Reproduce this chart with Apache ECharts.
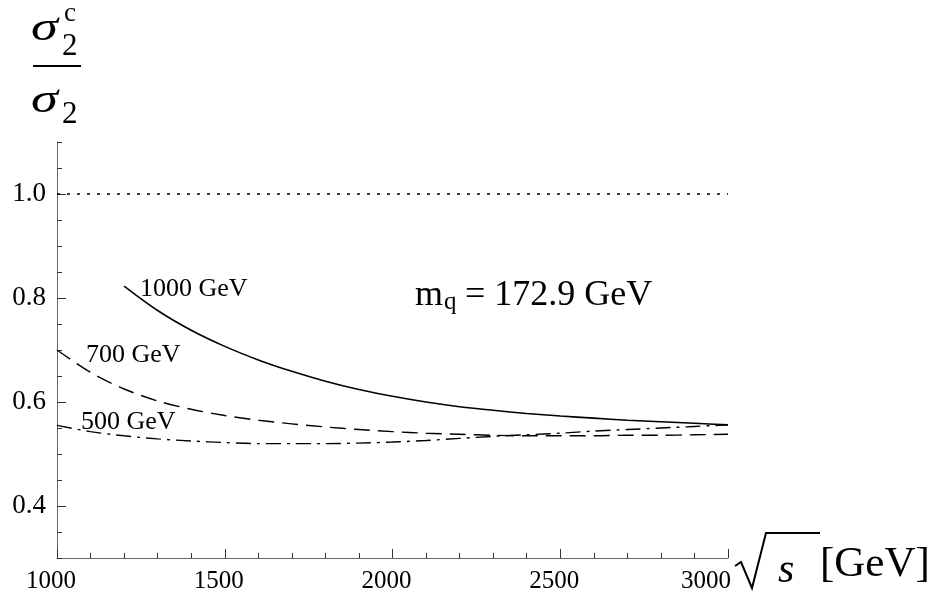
<!DOCTYPE html>
<html><head><meta charset="utf-8">
<script src="https://cdn.jsdelivr.net/npm/echarts@6/dist/echarts.min.js"></script>
<style>html,body{margin:0;padding:0;background:#fff}#c{width:935px;height:603px}</style>
</head><body><div id="c"></div>
<script>
// sqrt(s) in GeV
const sqrtS = [1000,1100,1200,1300,1400,1500,1600,1700,1800,1900,2000,2100,2200,2300,2400,2500,2600,2700,2800,2900,3000];
// sigma2^c / sigma2 for the three cut values (null = not drawn)
const cut1000 = [null,null,0.823,0.776,0.738,0.707,0.681,0.659,0.640,0.624,0.611,0.600,0.591,0.584,0.578,0.573,0.569,0.565,0.562,0.559,0.556];
const cut700  = [0.700,0.657,0.625,0.602,0.586,0.574,0.565,0.558,0.552,0.547,0.543,0.540,0.538,0.536,0.535,0.535,0.535,0.536,0.536,0.537,0.538];
const cut500  = [0.555,0.543,0.535,0.529,0.525,0.522,0.520,0.520,0.520,0.521,0.523,0.526,0.530,0.534,0.537,0.540,0.544,0.547,0.550,0.553,0.556];
const reference = [1.0, 1.0];
const referenceX = [1000, 3000];
const xTickLabels = ['1000','1500','2000','2500','3000'];
const xTickValues = [1000,1500,2000,2500,3000];
const yTickLabels = ['0.4','0.6','0.8','1.0'];
const yTickValues = [0.4,0.6,0.8,1.0];
const seriesNames = ['1000 GeV','700 GeV','500 GeV'];

const F = '"Liberation Serif","DejaVu Serif",serif';
const pairs = (xs, ys) => xs.map((x,i)=>[x, ys[i]]).filter(p=>p[1]!==null);

const chart = echarts.init(document.getElementById('c'), null, {renderer:'canvas'});
const axisColor = '#666';
const tickColor = '#333';
chart.setOption({
  animation:false,
  backgroundColor:'#fff',
  grid:{left:57,right:207,top:142,bottom:45},
  xAxis:[
    {type:'value',min:1000,max:3000,interval:100,position:'bottom',
     axisLine:{show:true,onZero:false,lineStyle:{color:axisColor,width:1}},
     axisTick:{show:true,inside:true,length:5,lineStyle:{color:tickColor,width:1}},
     axisLabel:{show:false},splitLine:{show:false}},
    {type:'value',min:1000,max:3000,interval:500,position:'bottom',offset:0,
     axisLine:{show:false},
     axisTick:{show:true,inside:true,length:9,lineStyle:{color:tickColor,width:1}},
     axisLabel:{show:true,margin:11,color:'#000',fontFamily:F,fontSize:25,
       formatter:(v)=>{const i=xTickValues.indexOf(v);return i===4?'{e|'+xTickLabels[i]+'}':(i>=0?'{f|'+xTickLabels[i]+'}':'');},
       rich:{f:{fontFamily:F,fontSize:25,color:'#000',padding:[0,12,0,0]},
             e:{fontFamily:F,fontSize:25,color:'#000',padding:[0,44,0,0]}}},
     splitLine:{show:false}}
  ],
  yAxis:[
    {type:'value',min:0.3,max:1.1,interval:0.05,position:'left',
     axisLine:{show:true,onZero:false,lineStyle:{color:axisColor,width:1}},
     axisTick:{show:true,inside:true,length:5,lineStyle:{color:tickColor,width:1}},
     axisLabel:{show:false},splitLine:{show:false}},
    {type:'value',min:0.3,max:1.1,interval:0.05,position:'left',offset:0,
     axisLine:{show:false},
     axisTick:{show:true,inside:true,length:9,customValues:yTickValues,lineStyle:{color:tickColor,width:1}},
     axisLabel:{show:true,margin:11,color:'#000',fontFamily:F,fontSize:27,customValues:yTickValues,
       formatter:(v)=>{const i=yTickValues.findIndex(t=>Math.abs(t-v)<1e-6);return i>=0?yTickLabels[i]:'';}},
     splitLine:{show:false}}
  ],
  series:[
    {name:'ref',type:'line',xAxisIndex:0,yAxisIndex:0,data:pairs(referenceX,reference),showSymbol:false,
     lineStyle:{color:'#000',width:1.3,type:[3,7]}},
    {name:seriesNames[0],type:'line',xAxisIndex:0,yAxisIndex:0,data:pairs(sqrtS,cut1000),showSymbol:false,smooth:0.3,
     lineStyle:{color:'#000',width:1.6,type:'solid'}},
    {name:seriesNames[1],type:'line',xAxisIndex:0,yAxisIndex:0,data:pairs(sqrtS,cut700),showSymbol:false,smooth:0.3,
     lineStyle:{color:'#000',width:1.4,type:[16,8]}},
    {name:seriesNames[2],type:'line',xAxisIndex:0,yAxisIndex:0,data:pairs(sqrtS,cut500),showSymbol:false,smooth:0.3,
     lineStyle:{color:'#000',width:1.4,type:[15,6,3,6]}}
  ],
  graphic:[
    // y-axis title: sigma_2^c / sigma_2
    {type:'text',x:31,y:8,scaleX:1.3,style:{text:'σ',font:'italic 42px '+F,fill:'#000'}},
    {type:'text',left:62,top:31,style:{text:'2',font:'31px '+F,fill:'#000'}},
    {type:'text',left:64,top:0,style:{text:'c',font:'27px '+F,fill:'#000'}},
    {type:'line',shape:{x1:33,y1:66,x2:81,y2:66},style:{stroke:'#000',lineWidth:2}},
    {type:'text',x:31,y:80,scaleX:1.3,style:{text:'σ',font:'italic 42px '+F,fill:'#000'}},
    {type:'text',left:62,top:99,style:{text:'2',font:'31px '+F,fill:'#000'}},
    // x-axis title: sqrt(s) [GeV]
    {type:'polyline',shape:{points:[[735,566],[741,562],[752,588],[766,533],[820,533]]},style:{stroke:'#000',lineWidth:2,fill:null}},
    {type:'text',left:778,top:550,style:{text:'s',font:'italic 42px '+F,fill:'#000'}},
    {type:'text',left:820,top:543,style:{text:'[GeV]',font:'43px '+F,fill:'#000'}},
    // curve labels
    {type:'text',left:140,top:276,style:{text:seriesNames[0],font:'26px '+F,fill:'#000'}},
    {type:'text',left:86,top:342,style:{text:seriesNames[1],font:'26px '+F,fill:'#000'}},
    {type:'text',left:81,top:409,style:{text:seriesNames[2],font:'26px '+F,fill:'#000'}},
    // mass label
    {type:'text',left:415,top:278,style:{text:'m',font:'36px '+F,fill:'#000'}},
    {type:'text',left:444,top:290,style:{text:'q',font:'25px '+F,fill:'#000'}},
    {type:'text',left:465,top:278,style:{text:'= 172.9 GeV',font:'36px '+F,fill:'#000'}}
  ]
});
</script></body></html>
